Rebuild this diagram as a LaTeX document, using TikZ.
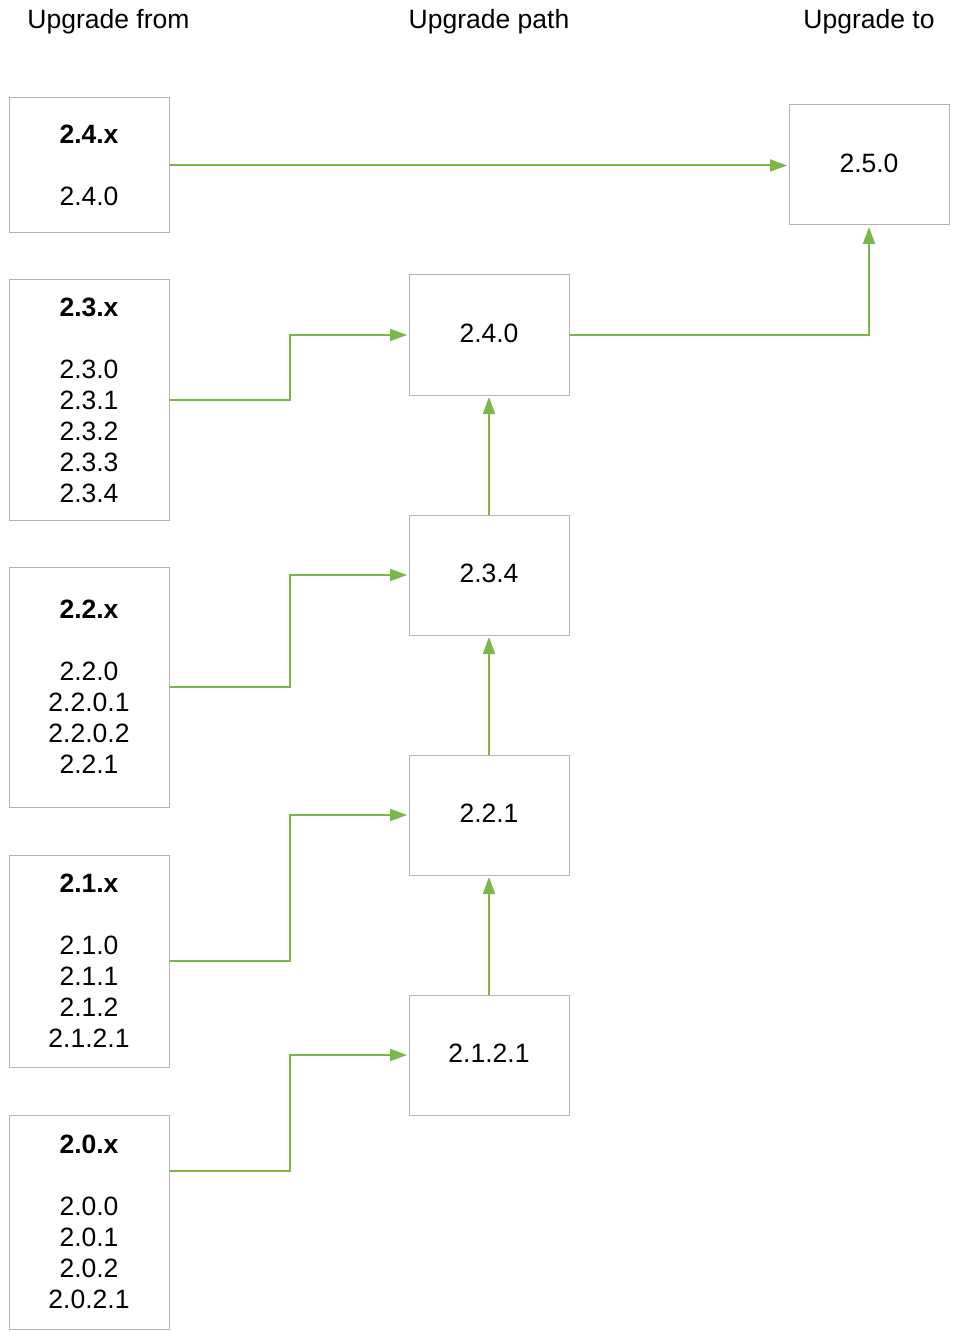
\documentclass[tikz,border=0pt]{standalone}
\usepackage{fontspec}
\setmainfont{Liberation Sans}
\usetikzlibrary{arrows.meta}
\definecolor{linkgreen}{RGB}{122,182,72}
\definecolor{boxgray}{RGB}{178,178,178}
\tikzset{
  vbox/.style={draw=boxgray, line width=1pt, minimum width=160pt, inner sep=0pt, align=center,
    font=\fontsize{26.5}{31}\selectfont, text=black},
  hdr/.style={anchor=base, font=\fontsize{26.5}{31}\selectfont, text=black},
  link/.style={draw=linkgreen, line width=2pt, -{Triangle[length=17pt,width=12pt]}, shorten >=1.5pt}
}
\begin{document}
\begin{tikzpicture}[x=1pt,y=-1pt]
\useasboundingbox (0,0) rectangle (955,1337);
% headers
\node[hdr] (h1) at (108.5,29) {Upgrade from};
\node[hdr] (h2) at (489,29) {Upgrade path};
\node[hdr] (h3) at (869,29) {Upgrade to};
% left column
\node[vbox, minimum height=135pt] (b24) at (89,165.5) {\textbf{2.4.x}\\[31pt]2.4.0};
\node[vbox, minimum height=240pt] (b23) at (89,400) {\textbf{2.3.x}\\[31pt]2.3.0\\2.3.1\\2.3.2\\2.3.3\\2.3.4};
\node[vbox, minimum height=240pt] (b22) at (89,687) {\textbf{2.2.x}\\[31pt]2.2.0\\2.2.0.1\\2.2.0.2\\2.2.1};
\node[vbox, minimum height=212pt] (b21) at (89,961) {\textbf{2.1.x}\\[31pt]2.1.0\\2.1.1\\2.1.2\\2.1.2.1};
\node[vbox, minimum height=214pt] (b20) at (89,1222) {\textbf{2.0.x}\\[31pt]2.0.0\\2.0.1\\2.0.2\\2.0.2.1};
% middle column
\node[vbox, minimum height=120pt] (m240) at (489,335) {\raisebox{3pt}{2.4.0}};
\node[vbox, minimum height=120pt] (m234) at (489,575) {\raisebox{3pt}{2.3.4}};
\node[vbox, minimum height=120pt] (m221) at (489,815) {\raisebox{3pt}{2.2.1}};
\node[vbox, minimum height=120pt] (m2121) at (489,1055) {\raisebox{3pt}{2.1.2.1}};
% right
\node[vbox, minimum height=120pt] (r250) at (869,165) {\raisebox{3pt}{2.5.0}};
% connectors
\draw[link] (b24.east) -- (b24.east -| r250.west);
\draw[link] (b23.east) -- ++(120,0) |- (m240.west);
\draw[link] (b22.east) -- ++(120,0) |- (m234.west);
\draw[link] (b21.east) -- ++(120,0) |- (m221.west);
\coordinate (b20out) at ([yshift=51pt]b20.east);
\draw[link] (b20out) -- ++(120,0) |- (m2121.west);
\draw[link] (m2121.north) -- (m221.south);
\draw[link] (m221.north) -- (m234.south);
\draw[link] (m234.north) -- (m240.south);
\draw[link] (m240.east) -| (r250.south);
\end{tikzpicture}
\end{document}
